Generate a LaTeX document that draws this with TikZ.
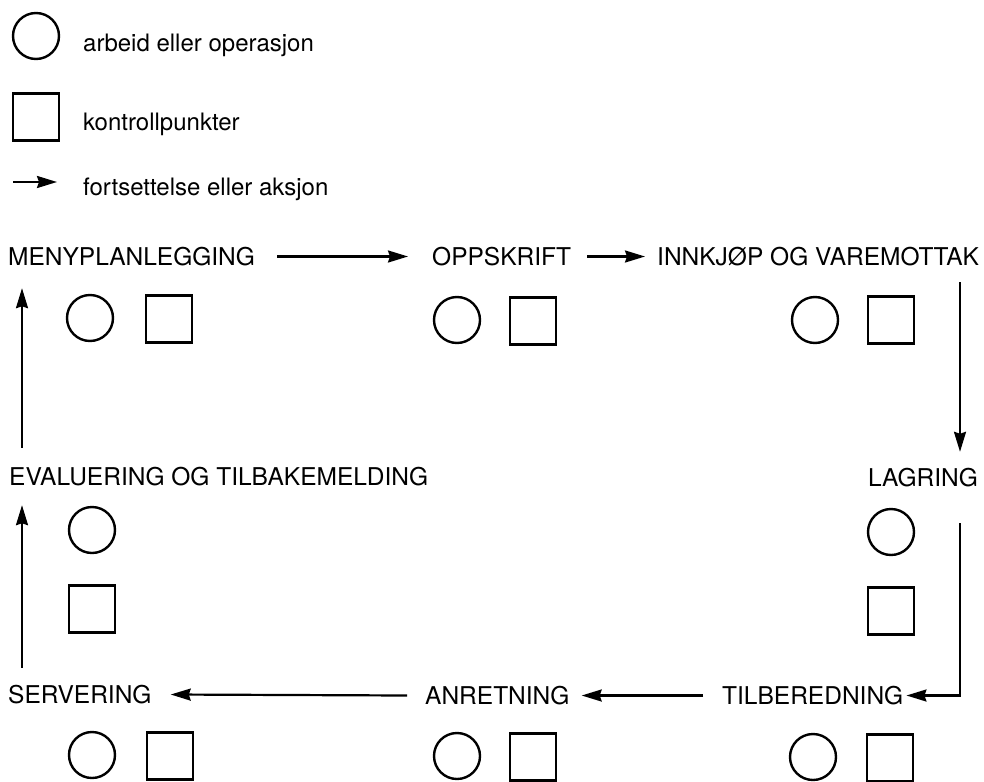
\documentclass[tikz,border=0pt]{standalone}
\usepackage{fontspec}
\setmainfont{TeX Gyre Heros}
\usetikzlibrary{arrows.meta}

\begin{document}
\begin{tikzpicture}[x=1pt,y=-1pt,
  stage/.style={inner sep=0pt,anchor=base west,text height=17pt,text depth=0pt,font=\fontsize{24.5}{28}\selectfont},
  legend/.style={inner sep=0pt,anchor=base west,font=\fontsize{24}{28}\selectfont},
  op/.style={draw,circle,line width=2.4pt,minimum size=46pt,inner sep=0pt},
  kp/.style={draw,rectangle,line width=2.4pt,minimum width=46pt,minimum height=47pt,inner sep=0pt},
  flow/.style={line width=2.2pt,-{Stealth[length=20pt,width=12pt,inset=2pt]}}]
\useasboundingbox (0,0) rectangle (984,781);
% legend
\node[op] (l-op) at (36,36) {};
\node[legend] (l-op-txt) at (83,52) {arbeid eller operasjon};
\node[kp] (l-kp) at (36,117) {};
\node[legend] (l-kp-txt) at (83,130) {kontrollpunkter};
\coordinate (l-a1) at (13,182);
\coordinate (l-a2) at (57,182);
\draw[flow] (l-a1) -- (l-a2);
\node[legend] (l-fl-txt) at (83,195) {fortsettelse eller aksjon};
% stages
\node[stage] (meny) at (8,265) {MENYPLANLEGGING};
\node[stage] (oppskrift) at (432,265) {OPPSKRIFT};
\node[stage] (innkjop) at (657,265) {INNKJØP OG VAREMOTTAK};
\node[stage] (evaluering) at (9,485) {EVALUERING OG TILBAKEMELDING};
\node[stage,anchor=base east] (lagring) at (978,486) {LAGRING};
\node[stage] (servering) at (8,703) {SERVERING};
\node[stage] (anretning) at (425,704) {ANRETNING};
\node[stage] (tilberedning) at (722,704) {TILBEREDNING};
\coordinate (lag-line) at ([xshift=-18pt]lagring.east);
% work and control points
\node[op] (meny-op) at (90,318) {};
\node[kp] (meny-kp) at (169,319) {};
\node[op] (opp-op) at (457,320) {};
\node[kp] (opp-kp) at (533,321) {};
\node[op] (inn-op) at (815,320) {};
\node[kp] (inn-kp) at (891,320) {};
\node[op] (eval-op) at (92,530) {};
\node[kp] (eval-kp) at (92,609) {};
\node[op] (lag-op) at (891,532) {};
\node[kp] (lag-kp) at (891,611) {};
\node[op] (serv-op) at (92,755) {};
\node[kp] (serv-kp) at (170,756) {};
\node[op] (anr-op) at (457,756) {};
\node[kp] (anr-kp) at (533,757) {};
\node[op] (til-op) at (813,757) {};
\node[kp] (til-kp) at (890,758) {};
% flow
\draw[flow] ([xshift=22pt]meny.east) -- ([xshift=-24pt]oppskrift.west);
\draw[flow] ([xshift=16pt]oppskrift.east) -- ([xshift=-12pt]innkjop.west);
\draw[flow] ([yshift=-17pt]innkjop.south -| lag-line) -- ([yshift=17pt]lagring.north -| lag-line);
\draw[flow] ([yshift=-37pt]lagring.south -| lag-line) |- ([xshift=3pt]tilberedning.east);
\draw[flow] ([xshift=-19pt]tilberedning.west) -- ([xshift=12pt]anretning.east);
\draw[flow] ([xshift=-18pt]anretning.west) -- ([xshift=19pt]servering.east);
\draw[flow] ([xshift=14pt,yshift=18pt]servering.north west) -- ([xshift=13pt,yshift=-20pt]evaluering.south west);
\draw[flow] ([xshift=13pt,yshift=20pt]evaluering.north west) -- ([xshift=14pt,yshift=-23pt]meny.south west);
\end{tikzpicture}
\end{document}
